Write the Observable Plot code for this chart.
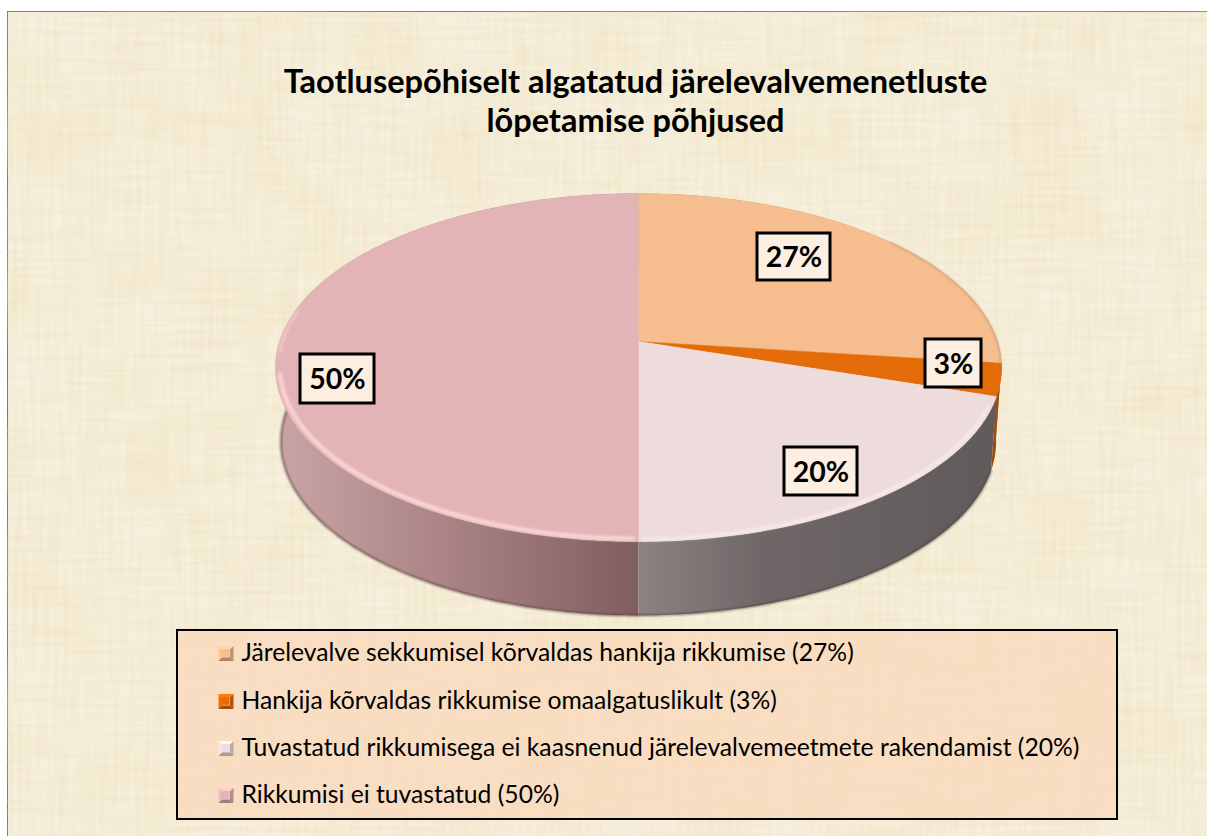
<!DOCTYPE html>
<html><head><meta charset="utf-8">
<script src="https://cdn.jsdelivr.net/npm/d3@7"></script>
<script src="https://cdn.jsdelivr.net/npm/@observablehq/plot@0.6"></script>
<style>
html,body{margin:0;padding:0;background:#fff;overflow:hidden}
.paper{filter:url(#tex)}
.glow{filter:blur(1.5px)}
.soft{filter:blur(1px)}
</style></head><body><div id="chart"></div>
<script>
// ---- data ----
const categories = [
  "Järelevalve sekkumisel kõrvaldas hankija rikkumise (27%)",
  "Hankija kõrvaldas rikkumise omaalgatuslikult (3%)",
  "Tuvastatud rikkumisega ei kaasnenud järelevalvemeetmete rakendamist (20%)",
  "Rikkumisi ei tuvastatud (50%)"
];
const values = [27, 3, 20, 50];
const valueLabels = ["27%", "3%", "20%", "50%"];
const topColors = ["#f6be8f", "#e36c09", "#eedcdc", "#e3b4b6"];
const titleLines = ["Taotlusepõhiselt algatatud järelevalvemenetluste", "lõpetamise põhjused"];

// ---- layout ----
const W = 1207, H = 836;
const pie = {cx: 638, cy: 341, a: 359, b: 170.1, k: 0.1494, depth: 74, shrink: 0.985};
const labelBoxes = [[757, 830, 233, 280], [925, 981, 339, 387], [784, 857, 447, 495], [300, 374, 354, 403]];
const legendBox = {x1: 177, x2: 1117, y1: 630, y2: 819};
const legendY = [653, 701, 748, 795];

// perspective projection of the pie disc; pct = 0..100 clockwise from 12 o'clock
function project(pct, r = 1, bottom = false) {
  const t = pct / 100 * 2 * Math.PI, u = r * Math.sin(t), v = r * Math.cos(t), w = 1 + pie.k * v;
  let x = pie.a * u / w, y = -pie.b * v / w;
  if (bottom) { x *= pie.shrink; y += pie.depth; }
  return {x: pie.cx + x, y: pie.cy + y};
}
function arc(p0, p1, r, bottom) {
  const n = Math.ceil((p1 - p0) * 4), out = [];
  for (let i = 0; i <= n; i++) out.push(project(p0 + (p1 - p0) * i / n, r, bottom));
  return out;
}
const ends = d3.cumsum(values), starts = ends.map((e, i) => e - values[i]);

const topPts = values.flatMap((_, i) =>
  [{x: pie.cx, y: pie.cy}, ...arc(starts[i], ends[i], 1, false)].map(p => ({...p, i})));
const wallPts = i => [...arc(starts[i], ends[i], 1, false), ...arc(starts[i], ends[i], 1, true).reverse()];

const polygon = (pts, fill) =>
  Plot.line(pts, {x: "x", y: "y", fill, stroke: "none", curve: "linear"});

// bevelled legend key, made of four trapezoids around a square
const keyPts = (i) => {
  const c = d3.color(topColors[i]), y = legendY[i], x0 = 218, x1 = 233, y0 = y - 7.5, y1 = y + 7.5, m = 3.6;
  const faces = [
    [[x0, y0], [x1, y0], [x1 - m, y0 + m], [x0 + m, y0 + m]],
    [[x0, y0], [x0 + m, y0 + m], [x0 + m, y1 - m], [x0, y1]],
    [[x1, y0], [x1, y1], [x1 - m, y1 - m], [x1 - m, y0 + m]],
    [[x0, y1], [x0 + m, y1 - m], [x1 - m, y1 - m], [x1, y1]]
  ];
  const shades = [c.brighter(0.35), c.brighter(0.1), c.darker(0.7), c.darker(1)];
  return faces.map((f, j) => ({pts: f.map(p => ({x: p[0], y: p[1]})), fill: shades[j] + ""}));
};

const legendRows = categories.map((c, i) => ({c, y: legendY[i]}));
const labelRows = labelBoxes.map((b, i) => ({x1: b[0], x2: b[1], y1: b[2], y2: b[3], t: valueLabels[i], x: (b[0] + b[1]) / 2, y: (b[2] + b[3]) / 2 + 1}));
const font = "Lato, Carlito, Calibri, sans-serif";

const chart = Plot.plot({
  width: W, height: H, margin: 0,
  x: {domain: [0, W], range: [0, W], axis: null},
  y: {domain: [0, H], range: [0, H], axis: null},
  style: {background: "transparent", fontFamily: font},
  marks: [
    Plot.rect([{x1: 7, x2: W + 5, y1: 11, y2: H + 5}], {x1: "x1", x2: "x2", y1: "y1", y2: "y2", fill: "#f7f0df", stroke: "#55524a", strokeWidth: 1.6, className: "paper"}),
    Plot.text(titleLines, {x: 635, y: (d, i) => 82 + i * 39, text: d => d, fontSize: 32.5, fontWeight: 700, fill: "#000", textAnchor: "middle"}),
    // side walls
    polygon(wallPts(3), "url(#wallPink)"),
    polygon(wallPts(0), "#a67c58"),
    polygon(wallPts(1), "#a04c08"),
    polygon(wallPts(2), "url(#wallGrey)"),
    Plot.line(arc(50, 76, 1, true), {x: "x", y: "y", stroke: "#5c4244", strokeWidth: 1.4, className: "soft"}),
    Plot.line(arc(30, 50, 1, true), {x: "x", y: "y", stroke: "#403a3a", strokeWidth: 1.2, className: "soft"}),
    // top face
    Plot.line(topPts, {x: "x", y: "y", z: "i", fill: d => topColors[d.i], stroke: d => topColors[d.i], strokeWidth: 0.5, curve: "linear"}),
    // lit front rim of the disc
    Plot.line(arc(50.2, 72, 0.988, false), {x: "x", y: "y", stroke: "#ffdcdc", strokeWidth: 3.4, className: "glow"}),
    Plot.line(arc(74, 78, 0.992, false), {x: "x", y: "y", stroke: "#f4c6c6", strokeWidth: 3, className: "glow"}),
    Plot.line(arc(31, 49.8, 0.99, false), {x: "x", y: "y", stroke: "#f9eeee", strokeWidth: 2.6, className: "glow"}),
    Plot.line(arc(14, 27, 0.998, false), {x: "x", y: "y", stroke: "#b0835c", strokeWidth: 1.4, strokeOpacity: 0.55, className: "soft"}),
    // legend
    Plot.rect([legendBox], {x1: "x1", x2: "x2", y1: "y1", y2: "y2", fill: "#f9d8bb", fillOpacity: 0.75, stroke: "#000", strokeWidth: 2}),
    ...categories.flatMap((_, i) => keyPts(i).map(f => polygon(f.pts, f.fill))),
    ...categories.map((_, i) => Plot.rect([{x1: 221.6, x2: 229.4, y1: legendY[i] - 3.9, y2: legendY[i] + 3.9}], {x1: "x1", x2: "x2", y1: "y1", y2: "y2", fill: topColors[i]})),
    Plot.text(legendRows, {x: 241, y: "y", text: "c", fontSize: 24.7, fill: "#000", textAnchor: "start"}),
    // value labels
    Plot.rect(labelRows, {x1: "x1", x2: "x2", y1: "y1", y2: "y2", fill: "#fdeee2", stroke: "#000", strokeWidth: 3}),
    Plot.text(labelRows, {x: "x", y: "y", text: "t", fontSize: 28.5, fontWeight: 700, fill: "#000"})
  ]
});

const defs = d3.select(chart).insert("defs", ":first-child");
defs.html(`
  <linearGradient id="wallPink" gradientUnits="userSpaceOnUse" x1="280" x2="638" y1="0" y2="0">
    <stop offset="0" stop-color="#c8a4a4"/><stop offset="0.45" stop-color="#ab8585"/><stop offset="1" stop-color="#7f5d60"/>
  </linearGradient>
  <linearGradient id="wallGrey" gradientUnits="userSpaceOnUse" x1="638" x2="995" y1="0" y2="0">
    <stop offset="0" stop-color="#8b8282"/><stop offset="0.35" stop-color="#6f6767"/><stop offset="1" stop-color="#615a5a"/>
  </linearGradient>
  <filter id="tex" x="0" y="0" width="100%" height="100%" color-interpolation-filters="sRGB">
    <feTurbulence type="fractalNoise" baseFrequency="0.012 0.22" numOctaves="2" seed="4" result="h"/>
    <feColorMatrix in="h" type="matrix" values="0 0 0 0 0.90  0 0 0 0 0.85  0 0 0 0 0.68  0.5 0 0 0 -0.17" result="ha"/>
    <feTurbulence type="fractalNoise" baseFrequency="0.22 0.012" numOctaves="2" seed="9" result="v"/>
    <feColorMatrix in="v" type="matrix" values="0 0 0 0 0.90  0 0 0 0 0.85  0 0 0 0 0.68  0.5 0 0 0 -0.17" result="va"/>
    <feTurbulence type="fractalNoise" baseFrequency="0.01 0.012" numOctaves="2" seed="2" result="p"/>
    <feColorMatrix in="p" type="matrix" values="0 0 0 0 0.95  0 0 0 0 0.91  0 0 0 0 0.76  0.8 0 0 0 -0.33" result="pa"/>
    <feMerge><feMergeNode in="SourceGraphic"/><feMergeNode in="pa"/><feMergeNode in="ha"/><feMergeNode in="va"/></feMerge>
  </filter>`);
document.getElementById("chart").append(chart);
</script></body></html>
